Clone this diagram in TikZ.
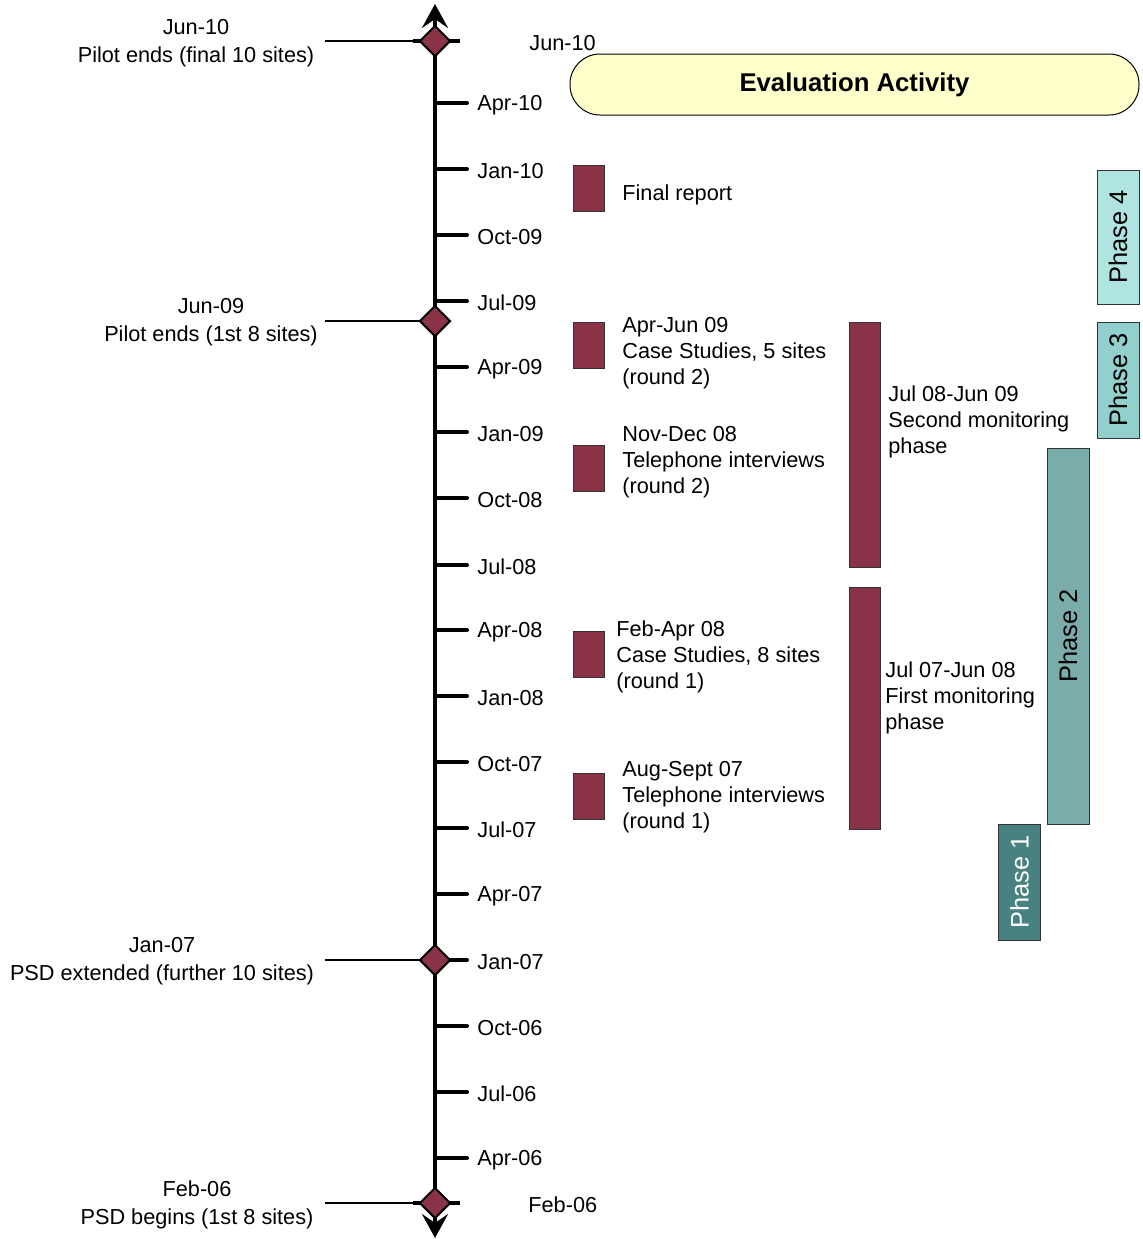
\documentclass[tikz,border=0pt]{standalone}
\usepackage{fontspec}
\setmainfont{Liberation Sans}
\usetikzlibrary{arrows.meta,shapes.geometric}
\definecolor{maroon}{HTML}{8B3346}
\definecolor{evyellow}{HTML}{FFFFCC}
\definecolor{phfour}{HTML}{B0E4E1}
\definecolor{phthree}{HTML}{92D0CD}
\definecolor{phtwo}{HTML}{7AADAA}
\definecolor{phone}{HTML}{478180}
\tikzset{
  lbl/.style={inner sep=0pt, yshift=-1pt, font=\fontsize{10.85}{13}\selectfont},
  ticklbl/.style={lbl, anchor=west},
  multilbl/.style={lbl, anchor=west, align=left},
  leftlbl/.style={inner sep=0pt, yshift=-1pt, align=center, font=\fontsize{10.85}{14}\selectfont},
  milestone/.style={diamond, draw=black, line width=1pt, fill=maroon, inner sep=0pt, minimum width=15.5pt, minimum height=15.5pt},
  smallbar/.style={draw=black!80, line width=0.5pt, fill=maroon, inner sep=0pt, minimum width=15.5pt, minimum height=23pt},
  tallbar/.style={draw=black!80, line width=0.5pt, fill=maroon, inner sep=0pt, minimum width=15.5pt},
  phasebox/.style={draw=black!80, line width=0.5pt, rotate=90, inner sep=0pt, minimum height=21pt, font=\fontsize{12.7}{15}\selectfont},
  axisline/.style={line width=2pt},
  tickline/.style={line width=2pt, line cap=round},
  stub/.style={line width=1.8pt},
  leader/.style={line width=0.9pt},
}
\begin{document}
\begin{tikzpicture}[x=0.5pt,y=-0.5pt]
\useasboundingbox (0,0) rectangle (1143,1239);

% axis
\coordinate (axtop) at (435,4);
\coordinate (axbot) at (435,1238);
\draw[axisline, {Stealth[length=12pt,width=13pt,inset=4.5pt]}-{Stealth[length=12pt,width=13pt,inset=4.5pt]}] (axbot) -- (axtop);

% ticks and labels
\foreach \y/\t [count=\i] in {103/Apr-10,169/Jan-10,235/Oct-09,301/Jul-09,367/Apr-09,432/Jan-09,498/Oct-08,565/Jul-08,630/Apr-08,696/Jan-08,762/Oct-07,828/Jul-07,894/Apr-07,960/Jan-07,1026/Oct-06,1092/Jul-06,1158/Apr-06}{
  \coordinate (tk\i) at (435,\y);
  \node[ticklbl] (tl\i) at (477,\y) {\t};
  \coordinate (te\i) at (467,\y);
  \draw[tickline] (tk\i) -- (te\i);
}

% stubs behind top and bottom diamonds
\draw[stub] (413,41) -- (460,41);
\draw[stub] (413,1203) -- (460,1203);

% milestones
\node[milestone] (m1) at (435,41) {};
\node[milestone] (m2) at (435,321) {};
\node[milestone] (m3) at (435,960) {};
\node[milestone] (m4) at (435,1203) {};

\coordinate (c1) at (325,41);
\coordinate (c2) at (325,321);
\coordinate (c3) at (325,960);
\coordinate (c4) at (325,1203);
\draw[leader] (c1) -- (m1.west);
\draw[leader] (c2) -- (m2.west);
\draw[leader] (c3) -- (m3.west);
\draw[leader] (c4) -- (m4.west);

\node[leftlbl] (ml1) at (196,41) {Jun-10\\Pilot ends (final 10 sites)};
\node[leftlbl] (ml2) at (211,320) {Jun-09\\Pilot ends (1st 8 sites)};
\node[leftlbl] (ml3) at (162,959) {Jan-07\\PSD extended (further 10 sites)};
\node[leftlbl] (ml4) at (197,1203) {Feb-06\\PSD begins (1st 8 sites)};

\node[ticklbl] (d1) at (529,41) {Jun-10};
\node[ticklbl] (d2) at (528,1203) {Feb-06};

% title
\node[draw=black, line width=0.5pt, fill=evyellow, rounded corners=15pt, minimum width=284.5pt, minimum height=30.5pt, inner sep=0pt, font=\bfseries\fontsize{12.85}{15}\selectfont] (title) at (854.5,84.5) {Evaluation Activity};

% activities
\node[smallbar] (a1) at (588.5,188) {};
\node[smallbar] (a2) at (588.5,345) {};
\node[smallbar] (a3) at (588.5,468) {};
\node[smallbar] (a4) at (588.5,654) {};
\node[smallbar] (a5) at (588.5,796) {};

\node[ticklbl] (al1) at (622,193) {Final report};
\node[multilbl] (al2) at (622,351) {Apr-Jun 09\\Case Studies, 5 sites\\(round 2)};
\node[multilbl] (al3) at (622,460) {Nov-Dec 08\\Telephone interviews\\(round 2)};
\node[multilbl] (al4) at (616,655) {Feb-Apr 08\\Case Studies, 8 sites\\(round 1)};
\node[multilbl] (al5) at (622,795) {Aug-Sept 07\\Telephone interviews\\(round 1)};

% monitoring bars
\node[tallbar, minimum height=122.5pt] (b1) at (864.5,444.5) {};
\node[tallbar, minimum height=121pt] (b2) at (864.5,708) {};
\node[multilbl] (bl1) at (888,420) {Jul 08-Jun 09\\Second monitoring\\phase};
\node[multilbl] (bl2) at (885,696) {Jul 07-Jun 08\\First monitoring\\phase};

% phases
\node[phasebox, fill=phfour, minimum width=67pt] (p4) at (1118,237) {Phase 4};
\node[phasebox, fill=phthree, minimum width=58pt] (p3) at (1118,380) {Phase 3};
\node[phasebox, fill=phtwo, minimum width=188pt] (p2) at (1068,636) {Phase 2};
\node[phasebox, fill=phone, text=white, minimum width=58pt] (p1) at (1019.5,882) {Phase 1};
\end{tikzpicture}
\end{document}
